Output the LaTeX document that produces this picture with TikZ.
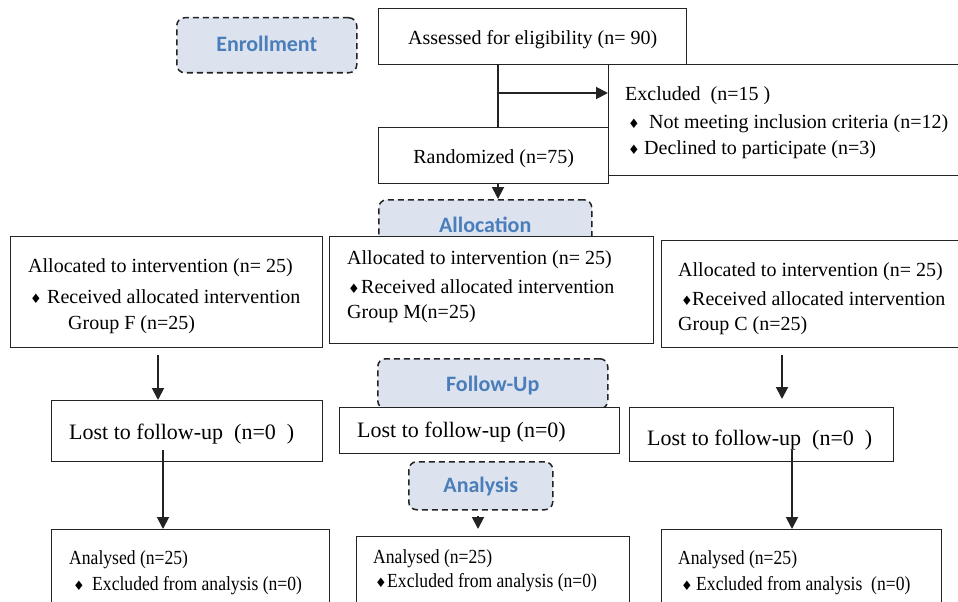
\documentclass[tikz,border=0pt]{standalone}
\usepackage{fontspec}
\setmainfont{Liberation Serif}
\newfontfamily\calfont{Carlito}
\newfontfamily\symfont{DejaVu Sans}
\newfontfamily\condfont[FakeStretch=0.88]{Liberation Serif}
\usetikzlibrary{arrows.meta,calc}
\definecolor{phasefill}{RGB}{220,227,239}
\definecolor{phasetext}{RGB}{74,126,187}
\definecolor{ink}{RGB}{35,35,35}
\newcommand\dia{{\symfont\fontsize{13}{13}\selectfont ♦}}
\begin{document}
\begin{tikzpicture}[x=1pt,y=-1pt,
  box/.style={draw=ink,line width=1.4pt,fill=white,anchor=north west,inner sep=0pt},
  phase/.style={draw=ink,dash pattern=on 6pt off 4pt,line width=1.5pt,rounded corners=8pt,
    fill=phasefill,anchor=north west,inner sep=0pt,text=phasetext,
    font=\calfont\bfseries\fontsize{22}{26}\selectfont},
  phasetxt/.style={inner sep=0pt,text=phasetext,font=\calfont\bfseries\fontsize{22}{26}\selectfont},
  ctxt/.style={inner sep=0pt,font=\fontsize{20}{24}\selectfont},
  txt/.style={anchor=west,inner sep=0pt,yshift=-3pt,font=\fontsize{20}{24}\selectfont},
  ltxt/.style={anchor=west,inner sep=0pt,yshift=-2.5pt,font=\fontsize{22}{26}\selectfont},
  atxt/.style={anchor=west,inner sep=0pt,yshift=-3pt,font=\condfont\fontsize{20}{24}\selectfont},
  ln/.style={draw=ink,line width=1.9pt},
  arr/.style={draw=ink,line width=1.9pt,-{Triangle[length=12pt,width=12pt]}}]
\useasboundingbox (0,0) rectangle (958,602);
\fill[white] (0,0) rectangle (958,602);
\clip (0,0) rectangle (958,602);

% phase labels
\node[phase,minimum width=180pt,minimum height=55pt] (enroll) at (176,17) {};
\node[phasetxt] (enrollT) at ($(enroll.center)+(0,-1.5)$) {Enrollment};
\node[phase,minimum width=213pt,minimum height=50pt] (allocation) at (378,199) {};
\node[phasetxt] (allocationT) at (allocation.center) {Allocation};
\node[phase,minimum width=230pt,minimum height=50pt] (followup) at (377,358) {};
\node[phasetxt] (followupT) at ($(followup.center)+(0,1.5)$) {Follow-Up};
\node[phase,minimum width=144pt,minimum height=48pt] (analysis) at (408,461) {};
\node[phasetxt] (analysisT) at ($(analysis.center)+(0,1)$) {Analysis};

% enrollment
\node[box,minimum width=308pt,minimum height=56pt] (assessed) at (378,8) {};
\node[ctxt] (assessedT) at ($(assessed.center)+(0,2.5)$) {Assessed for eligibility (n= 90)};
\node[box,minimum width=360pt,minimum height=111pt] (excluded) at (608,64) {};
\node[txt] (ex1) at (625,93) {Excluded\ \ (n=15\ )};
\node[txt] (ex2) at (628,121) {\makebox[21pt][l]{\dia}Not meeting inclusion criteria (n=12)};
\node[txt] (ex3) at (628,147) {\makebox[16pt][l]{\dia}Declined to participate (n=3)};
\node[box,minimum width=230pt,minimum height=56pt] (randomized) at (378,127) {};
\node[ctxt] (randomizedT) at ($(randomized.center)+(0,2.5)$) {Randomized (n=75)};

% allocation
\node[box,minimum width=312pt,minimum height=111pt] (allocL) at (10,236) {};
\node[txt] (alL1) at (28,265) {Allocated to intervention (n= 25)};
\node[txt] (alL2) at (30,294) {\makebox[17pt][l]{\dia}Received allocated intervention};
\node[txt] (alL3) at (68,322) {Group F (n=25)};

\node[box,minimum width=324pt,minimum height=107pt] (allocM) at (329,236) {};
\node[txt] (alM1) at (347,257) {Allocated to intervention (n= 25)};
\node[txt] (alM2) at (348,284) {\makebox[13pt][l]{\dia}Received allocated intervention};
\node[txt] (alM3) at (347,311) {Group M(n=25)};

\node[box,minimum width=310pt,minimum height=107pt] (allocR) at (661,240) {};
\node[txt] (alR1) at (678,269) {Allocated to intervention (n= 25)};
\node[txt] (alR2) at (681,296) {\makebox[11pt][l]{\dia}Received allocated intervention};
\node[txt] (alR3) at (678,323) {Group C (n=25)};

% follow-up
\node[box,minimum width=271pt,minimum height=61pt] (lostL) at (51,400) {};
\node[ltxt] (loL) at (69,432) {Lost to follow-up\ \ (n=0\ \ )};
\node[box,minimum width=280pt,minimum height=46pt] (lostM) at (339,407) {};
\node[ltxt] (loM) at (357,430) {Lost to follow-up (n=0)};
\node[box,minimum width=264pt,minimum height=54pt] (lostR) at (629,407) {};
\node[ltxt] (loR) at (647,438) {Lost to follow-up\ \ (n=0\ \ )};

% analysis
\node[box,minimum width=278pt,minimum height=100pt] (anaL) at (51,529) {};
\node[atxt] (anL1) at (69,557) {Analysed (n=25)};
\node[atxt] (anL2) at (73,583) {\makebox[19pt][l]{\dia}Excluded from analysis (n=0)};
\node[box,minimum width=273pt,minimum height=100pt] (anaM) at (356,536) {};
\node[atxt] (anM1) at (373,556) {Analysed (n=25)};
\node[atxt] (anM2) at (375,580) {\makebox[12pt][l]{\dia}Excluded from analysis (n=0)};
\node[box,minimum width=280pt,minimum height=100pt] (anaR) at (661,529) {};
\node[atxt] (anR1) at (678,557) {Analysed (n=25)};
\node[atxt] (anR2) at (681,583) {\makebox[15pt][l]{\dia}Excluded from analysis\ \ (n=0)};

% connectors
\coordinate (split) at (498,93);
\draw[ln] (split |- assessed.south) -- (split |- randomized.north);
\draw[arr] (split) -- (split -| excluded.west);
\draw[arr] (split |- randomized.south) -- (split |- allocation.north);
\coordinate (aL) at (158,355);
\draw[arr] (aL) -- (aL |- lostL.north);
\coordinate (aR) at (782,355);
\draw[arr] (aR) -- ($(aR |- lostR.north)+(0,-8)$);
\coordinate (bL) at (163,450);
\draw[arr] (bL) -- (bL |- anaL.north);
\coordinate (bR) at (792,450);
\draw[arr] (bR) -- (bR |- anaR.north);
\coordinate (bM) at (478,516);
\draw[arr] (bM) -- ($(bM |- anaM.north)+(0,-7)$);
\end{tikzpicture}
\end{document}
